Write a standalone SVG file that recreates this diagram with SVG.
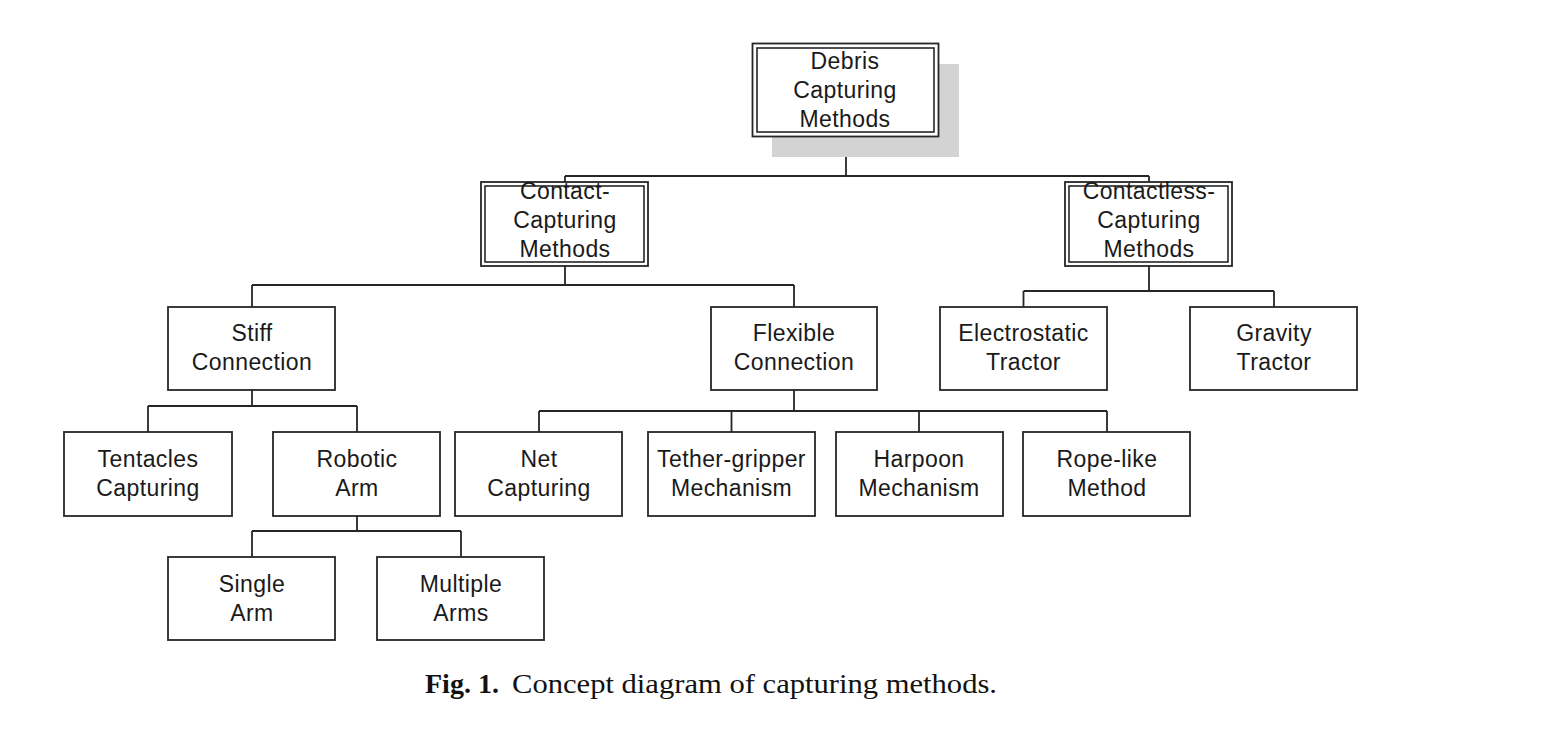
<svg xmlns="http://www.w3.org/2000/svg" width="1545" height="729" viewBox="0 0 1545 729">
<style>
.box{fill:#fff;stroke:#262626;stroke-width:1.8}
.inner{fill:none;stroke:#262626;stroke-width:1.6}
.lbl{font-family:"Liberation Sans",Arial,sans-serif;font-size:23px;fill:#1a1a1a;text-anchor:middle;letter-spacing:0.4px}
.conn{fill:none;stroke:#262626;stroke-width:1.8}
.cap{font-family:"Liberation Serif","Times New Roman",serif;font-size:28px;fill:#111}
</style>
<rect x="0" y="0" width="1545" height="729" fill="#fff"/>
<g id="connectors" class="conn">
<path d="M846 136V176M565 176H1149M565 176V182M1149 176V182"/>
<path d="M565 266V285M252 285H794M252 285V307M794 285V307"/>
<path d="M1149 266V291M1023.5 291H1274M1023.5 291V307M1274 291V307"/>
<path d="M252 390V406M148 406H357M148 406V432M357 406V432"/>
<path d="M794 390V411M539 411H1107M539 411V432M731.5 411V432M919 411V432M1107 411V432"/>
<path d="M357 516V531M252 531H461M252 531V557M461 531V557"/>
</g>
<g id="root">
<rect x="772" y="64" width="187" height="93" fill="#d3d3d3"/>
<rect class="box" x="752.5" y="43.5" width="186" height="93"/>
<rect class="inner" x="757" y="48" width="177" height="84"/>
<text class="lbl" x="845" y="69">Debris</text>
<text class="lbl" x="845" y="98">Capturing</text>
<text class="lbl" x="845" y="127">Methods</text>
</g>
<g id="contact">
<rect class="box" x="481" y="182" width="167" height="84"/>
<rect class="inner" x="485" y="186" width="159" height="76"/>
<text class="lbl" x="565" y="199">Contact-</text>
<text class="lbl" x="565" y="228">Capturing</text>
<text class="lbl" x="565" y="257">Methods</text>
</g>
<g id="contactless">
<rect class="box" x="1065" y="182" width="167" height="84"/>
<rect class="inner" x="1069" y="186" width="159" height="76"/>
<text class="lbl" x="1149" y="199">Contactless-</text>
<text class="lbl" x="1149" y="228">Capturing</text>
<text class="lbl" x="1149" y="257">Methods</text>
</g>
<g id="stiff">
<rect class="box" x="168" y="307" width="167" height="83"/>
<text class="lbl" x="252" y="341">Stiff</text>
<text class="lbl" x="252" y="370">Connection</text>
</g>
<g id="flexible">
<rect class="box" x="711" y="307" width="166" height="83"/>
<text class="lbl" x="794" y="341">Flexible</text>
<text class="lbl" x="794" y="370">Connection</text>
</g>
<g id="electrostatic">
<rect class="box" x="940" y="307" width="167" height="83"/>
<text class="lbl" x="1023.5" y="341">Electrostatic</text>
<text class="lbl" x="1023.5" y="370">Tractor</text>
</g>
<g id="gravity">
<rect class="box" x="1190" y="307" width="167" height="83"/>
<text class="lbl" x="1274" y="341">Gravity</text>
<text class="lbl" x="1274" y="370">Tractor</text>
</g>
<g id="tentacles">
<rect class="box" x="64" y="432" width="168" height="84"/>
<text class="lbl" x="148" y="467">Tentacles</text>
<text class="lbl" x="148" y="496">Capturing</text>
</g>
<g id="robotic">
<rect class="box" x="273" y="432" width="167" height="84"/>
<text class="lbl" x="357" y="467">Robotic</text>
<text class="lbl" x="357" y="496">Arm</text>
</g>
<g id="net">
<rect class="box" x="455" y="432" width="167" height="84"/>
<text class="lbl" x="539" y="467">Net</text>
<text class="lbl" x="539" y="496">Capturing</text>
</g>
<g id="tether">
<rect class="box" x="648" y="432" width="167" height="84"/>
<text class="lbl" x="731.5" y="467">Tether-gripper</text>
<text class="lbl" x="731.5" y="496">Mechanism</text>
</g>
<g id="harpoon">
<rect class="box" x="836" y="432" width="167" height="84"/>
<text class="lbl" x="919" y="467">Harpoon</text>
<text class="lbl" x="919" y="496">Mechanism</text>
</g>
<g id="rope">
<rect class="box" x="1023" y="432" width="167" height="84"/>
<text class="lbl" x="1107" y="467">Rope-like</text>
<text class="lbl" x="1107" y="496">Method</text>
</g>
<g id="single">
<rect class="box" x="168" y="557" width="167" height="83"/>
<text class="lbl" x="252" y="592">Single</text>
<text class="lbl" x="252" y="621">Arm</text>
</g>
<g id="multiple">
<rect class="box" x="377" y="557" width="167" height="83"/>
<text class="lbl" x="461" y="592">Multiple</text>
<text class="lbl" x="461" y="621">Arms</text>
</g>
<g id="caption">
<text class="cap" x="425" y="693" font-weight="bold">Fig. 1.</text>
<text class="cap" x="512" y="693" textLength="485" lengthAdjust="spacingAndGlyphs">Concept diagram of capturing methods.</text>
</g>
</svg>
